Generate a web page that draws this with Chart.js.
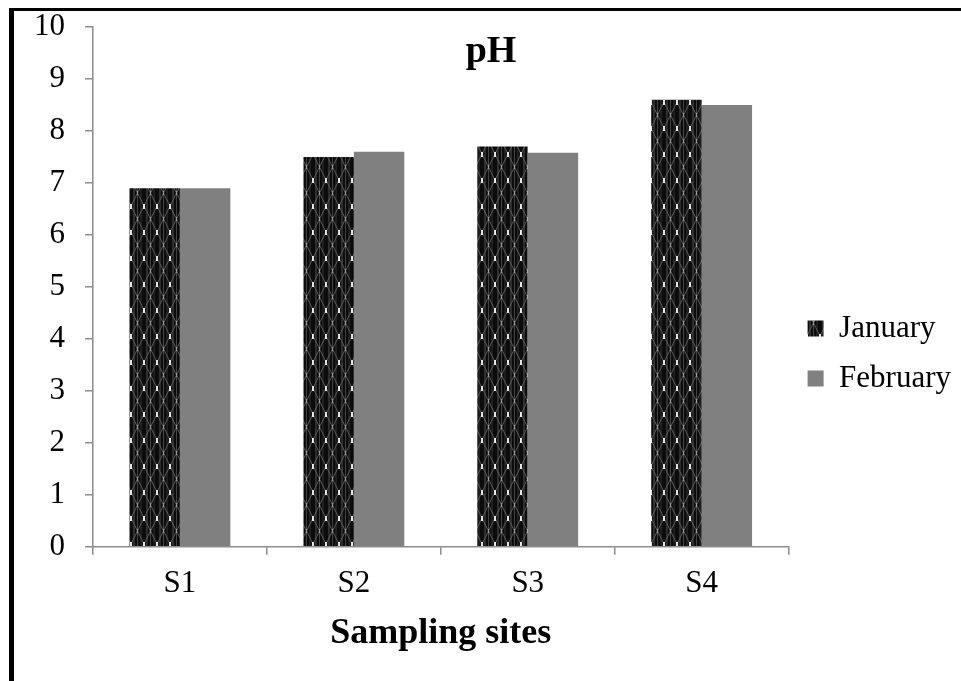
<!DOCTYPE html>
<html>
<head>
<meta charset="utf-8">
<script src="https://cdn.jsdelivr.net/npm/chart.js@4/dist/chart.umd.min.js"></script>
<style>
  html, body { margin: 0; padding: 0; background: #fff; }
  #frame {
    position: absolute; left: 9px; top: 8px;
    width: 947px; height: 670px;
    border-left: 5px solid #000; border-top: 3px solid #000;
  }
  #chart { display: block; }
</style>
</head>
<body>
<div id="frame"><canvas id="chart" width="947" height="670"></canvas></div>
<script>
var sites = ["S1", "S2", "S3", "S4"];
var january = [6.9, 7.5, 7.7, 8.6];
var february = [6.9, 7.6, 7.58, 8.5];
var chartTitle = "pH";
var xTitle = "Sampling sites";

var serif = "'Liberation Serif', 'Times New Roman', serif";
var axisGray = "#8c8c8c";

// dark lattice fill used for the January bars
function makeJanuaryPattern(ctx) {
  var tile = document.createElement("canvas");
  tile.width = 13;
  tile.height = 26;
  var c = tile.getContext("2d");
  c.fillStyle = "#0c0c0c";
  c.fillRect(0, 0, 13, 26);
  c.fillStyle = "#2e2e2e";
  c.fillRect(2, 0, 2, 26);
  c.fillStyle = "#1e1e1e";
  c.fillRect(9, 0, 2, 26);
  c.strokeStyle = "#5c5c5c";
  c.lineWidth = 1;
  c.beginPath();
  c.moveTo(6.5, 0); c.lineTo(13, 13); c.lineTo(6.5, 26);
  c.moveTo(6.5, 0); c.lineTo(0, 13); c.lineTo(6.5, 26);
  c.stroke();
  c.fillStyle = "#444";
  c.fillRect(6, 0, 1, 26);
  c.fillStyle = "#e8e8e8";
  c.fillRect(0, 11, 1, 5);
  c.fillRect(12, 11, 1, 5);
  c.fillStyle = "#9a9a9a";
  c.fillRect(6, 24, 1, 2);
  c.fillRect(6, 0, 1, 2);
  return ctx.createPattern(tile, "repeat");
}

var titlePlugin = {
  id: "phTitle",
  afterDraw: function (chart) {
    var ctx = chart.ctx;
    ctx.save();
    ctx.font = "bold 38px " + serif;
    ctx.fillStyle = "#000";
    ctx.textAlign = "center";
    ctx.textBaseline = "alphabetic";
    ctx.fillText(chartTitle, 477, 51);
    ctx.restore();
  }
};

var context = document.getElementById("chart").getContext("2d");

var chart = new Chart(context, {
  type: "bar",
  data: {
    labels: sites,
    datasets: [
      {
        label: "January",
        backgroundColor: makeJanuaryPattern(context),
        data: january,
      },
      {
        label: "February",
        backgroundColor: "#808080",
        data: february,
      },
    ],
  },
  options: {
    responsive: false,
    animation: false,
    layout: { autoPadding: false, padding: { left: 0, right: 0, top: 16, bottom: 29 } },
    datasets: {
      bar: { categoryPercentage: 0.58, barPercentage: 1.0 },
    },
    plugins: {
      title: { display: false },
      tooltip: { enabled: false },
      legend: {
        position: "right",
        title: { display: true, text: " ", font: { size: 1 }, padding: { top: 17, bottom: 10 } },
        labels: {
          color: "#000",
          font: { family: serif, size: 31 },
          boxWidth: 16,
          boxHeight: 16,
          padding: 19,
        },
      },
    },
    scales: {
      x: {
        offset: true,
        grid: {
          display: true,
          offset: true,
          drawOnChartArea: false,
          drawTicks: true,
          tickLength: 8,
          color: axisGray,
          lineWidth: 1.5,
        },
        border: { color: axisGray, width: 1.5 },
        ticks: { color: "#000", font: { family: serif, size: 31 }, padding: 10 },
        title: {
          display: true,
          text: xTitle,
          color: "#000",
          font: { family: serif, size: 36, weight: "bold", lineHeight: 1.0 },
          padding: { top: 4, bottom: 0 },
        },
      },
      y: {
        min: 0,
        max: 10,
        afterFit: function (scale) {
          scale.paddingTop = 0;
          scale.paddingBottom = 0;
        },
        grid: {
          display: true,
          drawOnChartArea: false,
          drawTicks: true,
          tickLength: 8,
          color: axisGray,
          lineWidth: 1.5,
        },
        border: { color: axisGray, width: 1.5 },
        ticks: {
          stepSize: 1,
          color: "#000",
          font: { family: serif, size: 31 },
          padding: 20,
        },
      },
    },
  },
  plugins: [titlePlugin],
});
</script>
</body>
</html>
